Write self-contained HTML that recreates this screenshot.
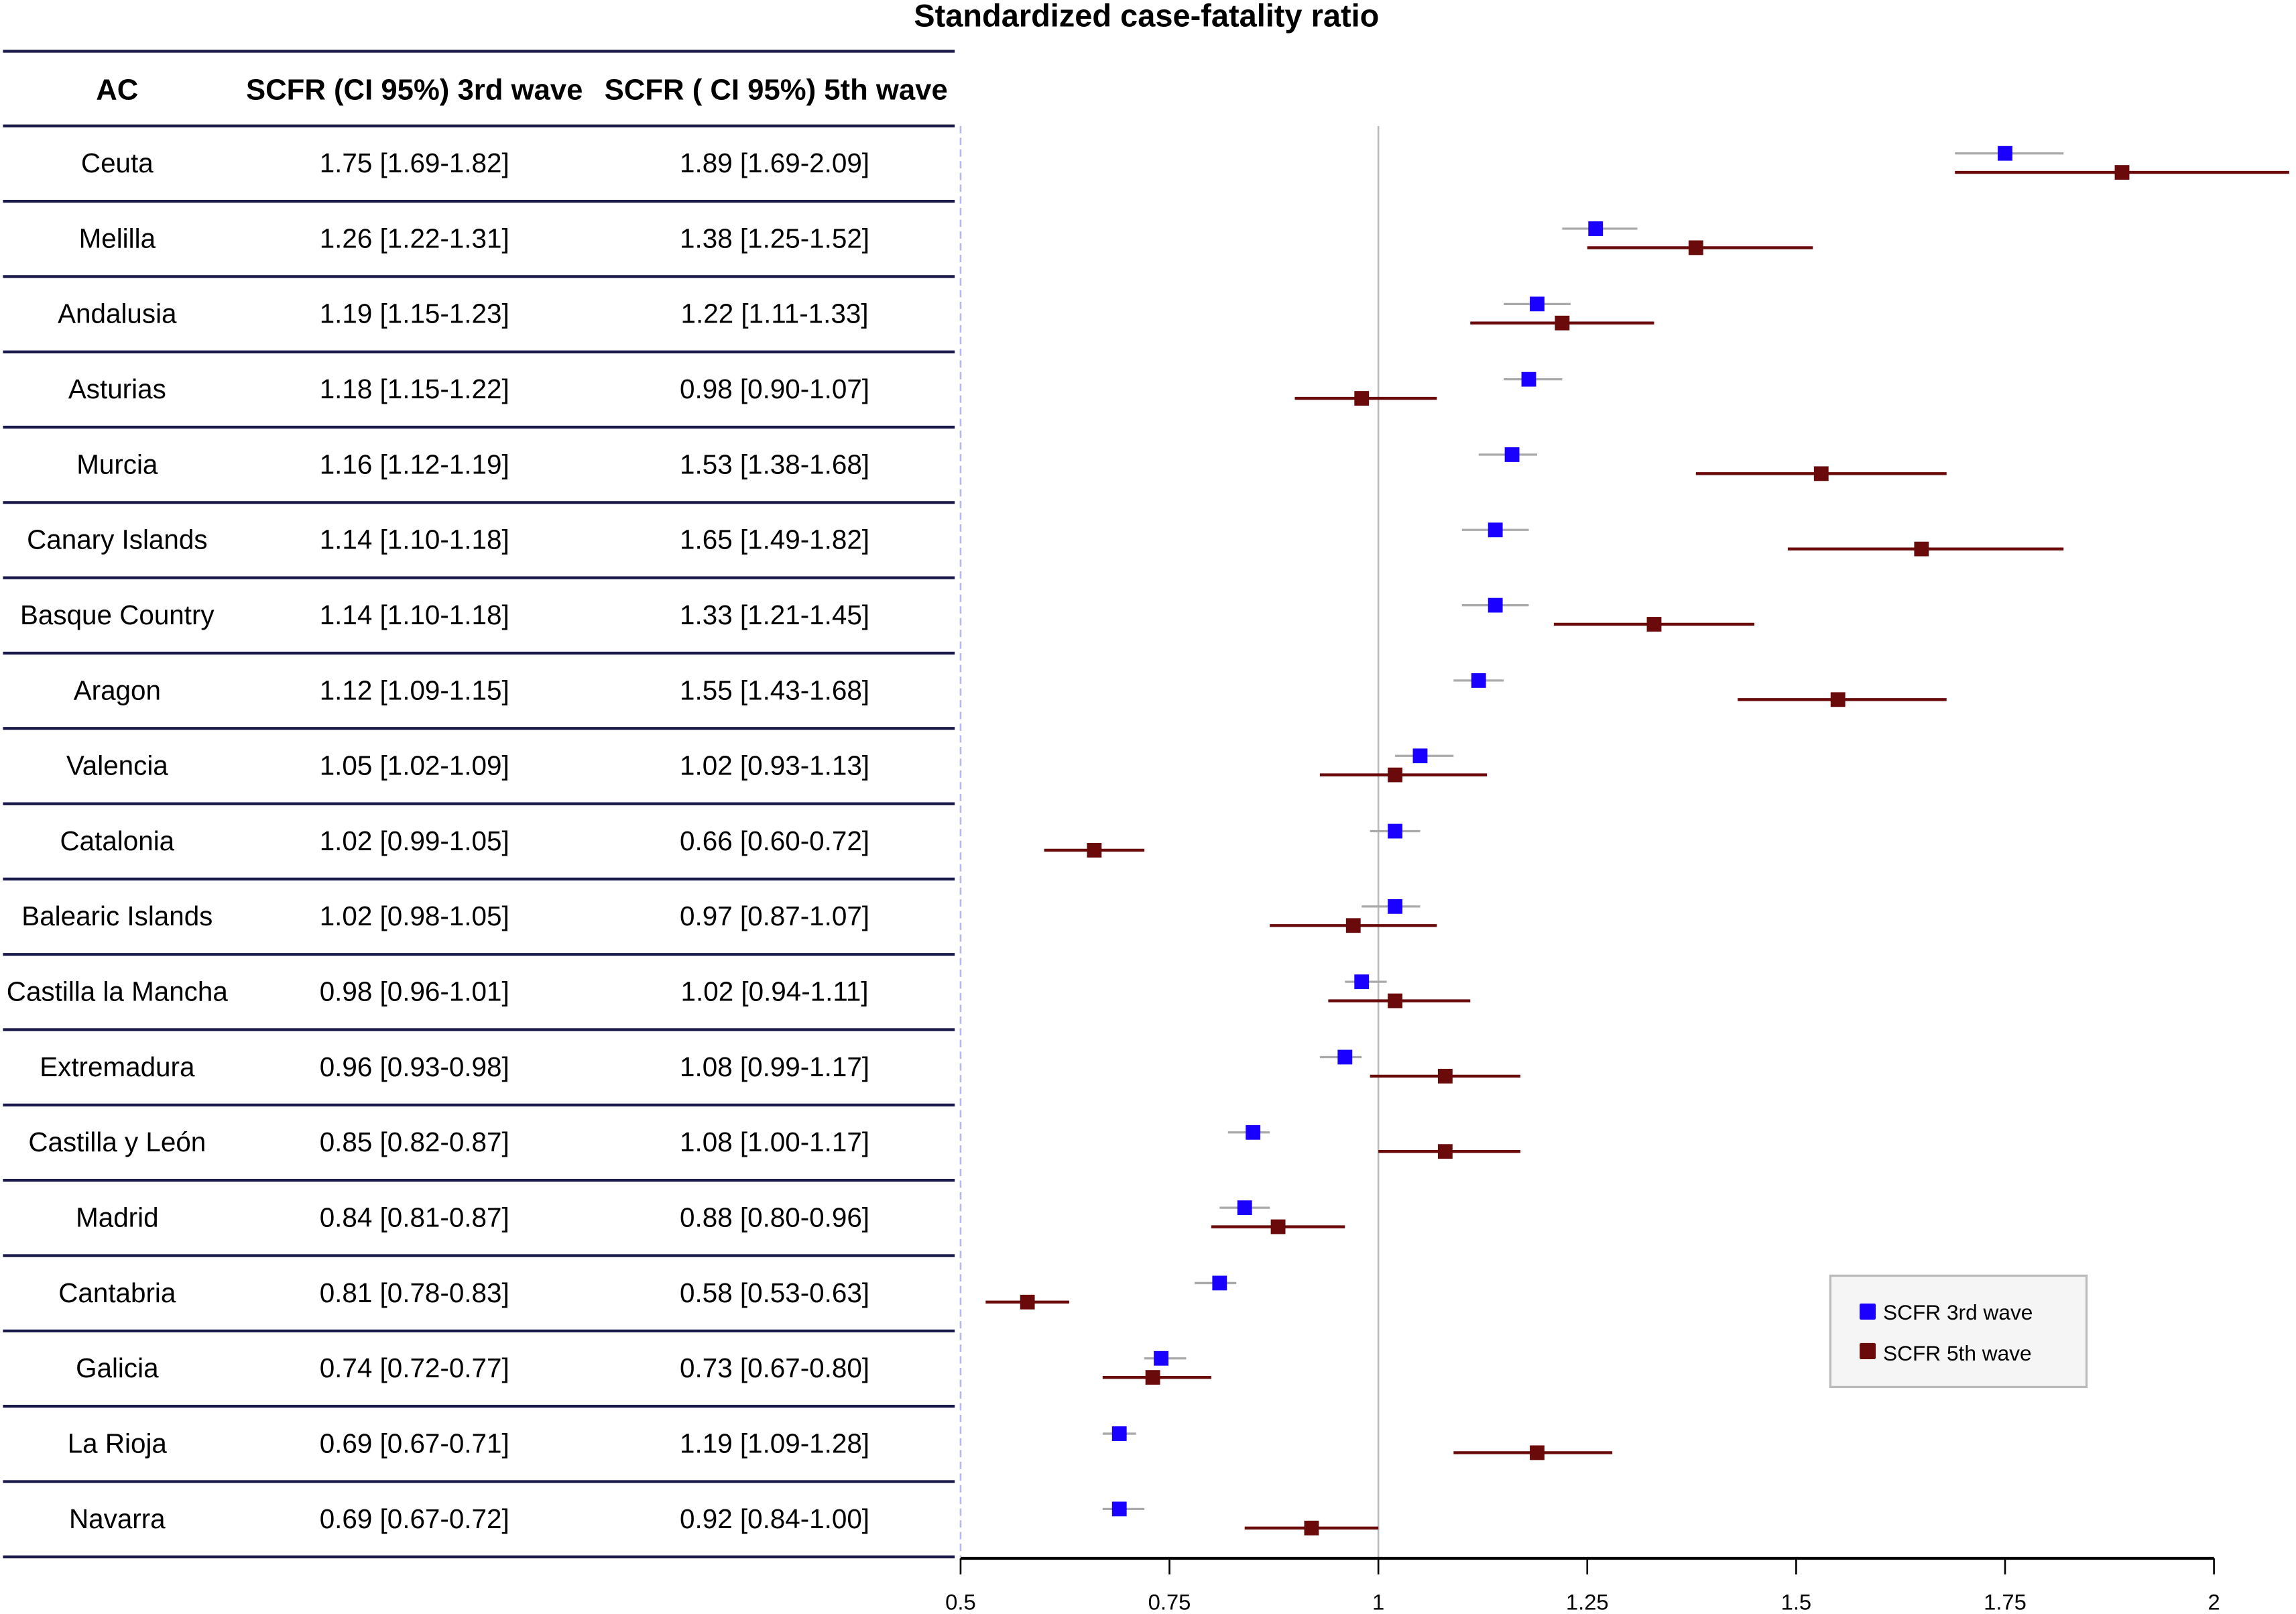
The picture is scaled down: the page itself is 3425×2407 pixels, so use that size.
<!DOCTYPE html>
<html><head><meta charset="utf-8"><style>html,body{margin:0;padding:0;background:#fff}svg{display:block}text{font-family:"Liberation Sans",Arial,sans-serif}</style></head>
<body>
<svg id="chart" width="3425" height="2407" viewBox="0 0 1568 1102" xmlns="http://www.w3.org/2000/svg">
<rect width="1568" height="1102" fill="#fff"/>
<text x="783" y="18" text-anchor="middle" font-size="21.5" font-weight="bold">Standardized case-fatality ratio</text>
<g id="table"></g>
<g id="plot"></g>
<g>
<rect x="1250" y="871" width="175" height="76" fill="#f5f5f5" stroke="#bbb" stroke-width="1.5"/>
<rect x="1270" y="890" width="11" height="11" fill="#1a00ff" rx="1"/>
<text x="1286" y="901" font-size="14.5">SCFR 3rd wave</text>
<rect x="1270" y="917" width="11" height="11" fill="#6b0a0a" rx="1"/>
<text x="1286" y="929" font-size="14.5">SCFR 5th wave</text>
</g>
</svg>
<script>
const regions = ["Ceuta","Melilla","Andalusia","Asturias","Murcia","Canary Islands","Basque Country","Aragon","Valencia","Catalonia","Balearic Islands","Castilla la Mancha","Extremadura","Castilla y León","Madrid","Cantabria","Galicia","La Rioja","Navarra"];
const w3 = [1.75,1.26,1.19,1.18,1.16,1.14,1.14,1.12,1.05,1.02,1.02,0.98,0.96,0.85,0.84,0.81,0.74,0.69,0.69];
const w3lo = [1.69,1.22,1.15,1.15,1.12,1.10,1.10,1.09,1.02,0.99,0.98,0.96,0.93,0.82,0.81,0.78,0.72,0.67,0.67];
const w3hi = [1.82,1.31,1.23,1.22,1.19,1.18,1.18,1.15,1.09,1.05,1.05,1.01,0.98,0.87,0.87,0.83,0.77,0.71,0.72];
const w5 = [1.89,1.38,1.22,0.98,1.53,1.65,1.33,1.55,1.02,0.66,0.97,1.02,1.08,1.08,0.88,0.58,0.73,1.19,0.92];
const w5lo = [1.69,1.25,1.11,0.90,1.38,1.49,1.21,1.43,0.93,0.60,0.87,0.94,0.99,1.00,0.80,0.53,0.67,1.09,0.84];
const w5hi = [2.09,1.52,1.33,1.07,1.68,1.82,1.45,1.68,1.13,0.72,1.07,1.11,1.17,1.17,0.96,0.63,0.80,1.28,1.00];
const ticks = ["0.5","0.75","1","1.25","1.5","1.75","2"];

const NS="http://www.w3.org/2000/svg";
function mk(tag,attrs,parent,txt){const e=document.createElementNS(NS,tag);for(const k in attrs)e.setAttribute(k,attrs[k]);if(txt!==undefined)e.textContent=txt;parent.appendChild(e);return e;}
const xs=v=>656+(v-0.5)*(1512-656)/1.5;
const rowTop=86, rowH=(1063-86)/regions.length;
const ym=i=>rowTop+rowH*(i+0.5);
const f=v=>v.toFixed(2);

const T=document.getElementById('table'), P=document.getElementById('plot');
mk('line',{x1:2,x2:652,y1:35,y2:35,stroke:'#1a1a4a','stroke-width':2},T);
let h;
h=mk('text',{x:80,y:68,'text-anchor':'middle','font-size':20,'font-weight':'bold'},T,'AC');


h=mk('text',{x:283,y:68,'text-anchor':'middle','font-size':20,'font-weight':'bold'},T,'SCFR (CI 95%) 3rd wave');


h=mk('text',{x:530,y:68,'text-anchor':'middle','font-size':20,'font-weight':'bold'},T,'SCFR ( CI 95%) 5th wave');


mk('line',{x1:2,x2:652,y1:86,y2:86,stroke:'#1a1a4a','stroke-width':2},T);

mk('line',{x1:656,x2:656,y1:86,y2:1063,stroke:'#b8b8f0','stroke-width':1.2,'stroke-dasharray':'5,3'},P);
const ref=mk('line',{x1:xs(1),x2:xs(1),y1:86,y2:1063,stroke:'#bbb','stroke-width':1.2},P);



regions.forEach((r,i)=>{
  const y=ym(i);
  let t=mk('text',{x:80,y:y+6,'text-anchor':'middle','font-size':18.5},T,r);
  
  
  t=mk('text',{x:283,y:y+6,'text-anchor':'middle','font-size':18.5},T,f(w3[i])+' ['+f(w3lo[i])+'-'+f(w3hi[i])+']');
  
  
  t=mk('text',{x:529,y:y+6,'text-anchor':'middle','font-size':18.5},T,f(w5[i])+' ['+f(w5lo[i])+'-'+f(w5hi[i])+']');
  
  
  mk('line',{x1:2,x2:652,y1:rowTop+rowH*(i+1),y2:rowTop+rowH*(i+1),stroke:'#1a1a4a','stroke-width':2},T);

  const y3=y-7, y5=y+6;
  let l=mk('line',{x1:xs(w3lo[i]),x2:xs(w3hi[i]),y1:y3,y2:y3,stroke:'#aaa','stroke-width':1.5},P);
  
  
  let s=mk('rect',{x:xs(w3[i])-5,y:y3-5,width:10,height:10,fill:'#1a00ff'},P);
  
  
  l=mk('line',{x1:xs(w5lo[i]),x2:xs(w5hi[i]),y1:y5,y2:y5,stroke:'#6b0a0a','stroke-width':2},P);
  
  
  s=mk('rect',{x:xs(w5[i])-5,y:y5-5,width:10,height:10,fill:'#6b0a0a'},P);
  
  
});

const ax=mk('line',{x1:656,x2:1512,y1:1064,y2:1064,stroke:'#000','stroke-width':2},P);


ticks.forEach(tk=>{
  const x=xs(parseFloat(tk));
  const tl=mk('line',{x1:x,x2:x,y1:1064,y2:1075,stroke:'#000','stroke-width':1.2},P);
  
  
  const tt=mk('text',{x:x,y:1099,'text-anchor':'middle','font-size':15},P,tk);
  
  
});
</script>
</body></html>
